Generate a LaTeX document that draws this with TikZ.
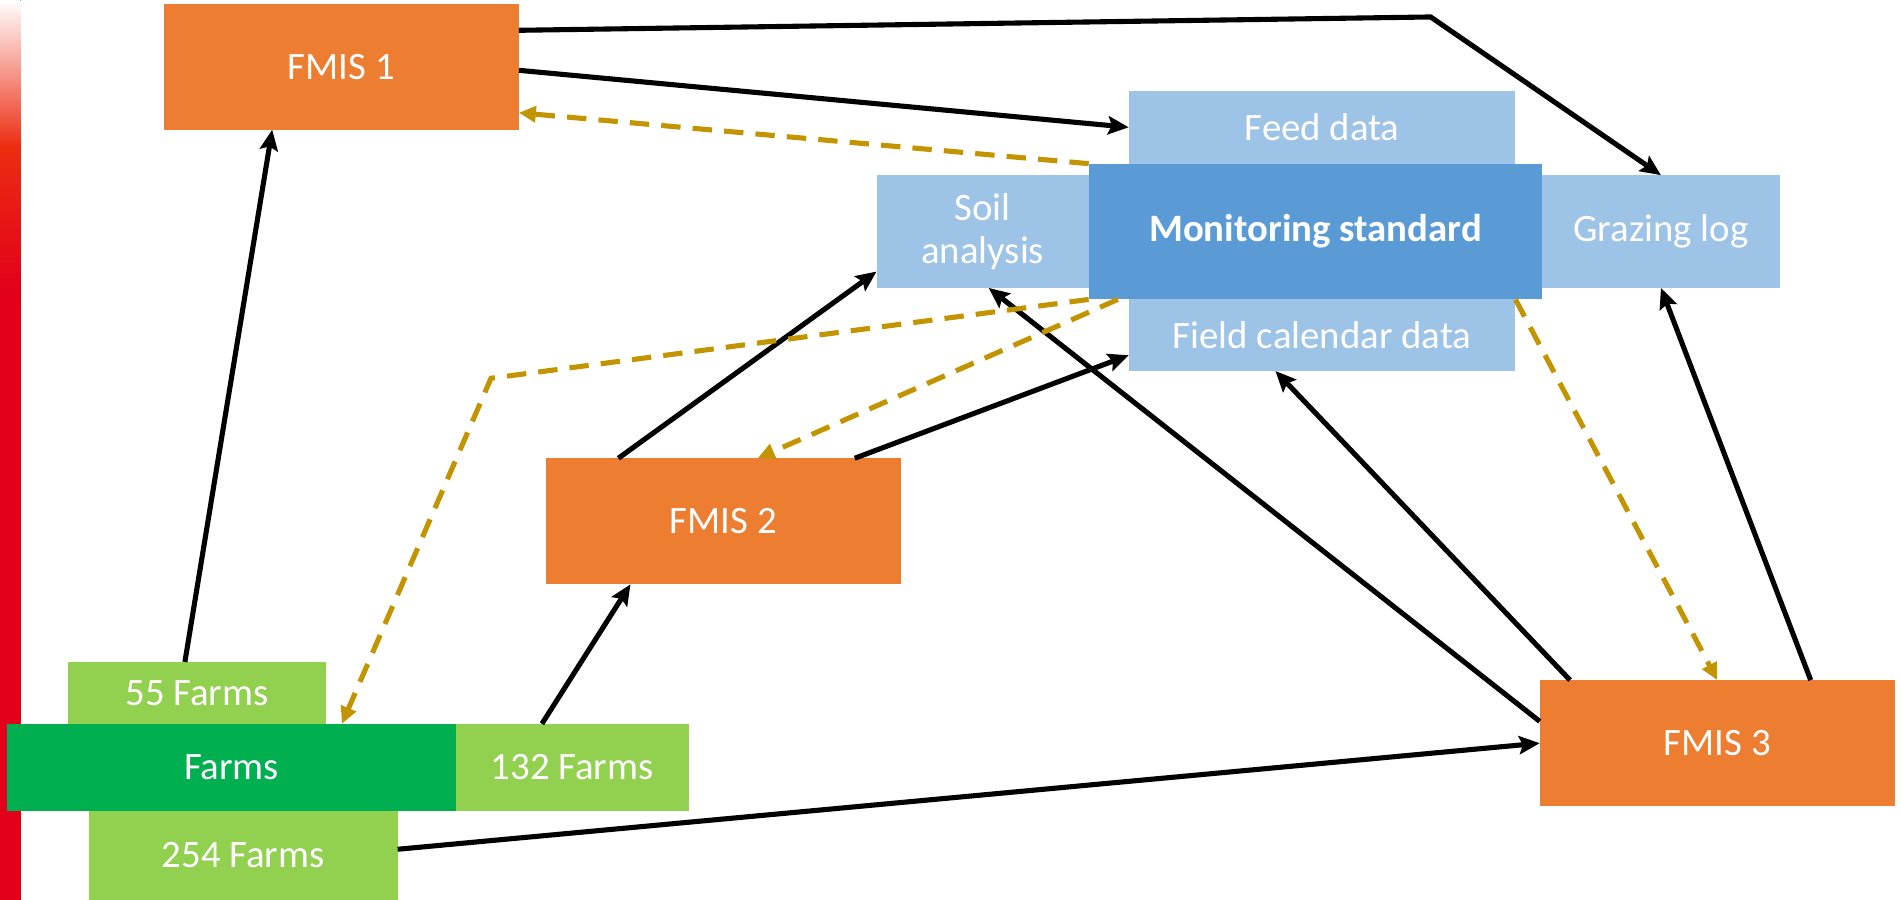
\documentclass[tikz,border=0pt]{standalone}
\usepackage{fontspec}
\setmainfont{Carlito}
\usepackage{tikz}
\usetikzlibrary{positioning,arrows.meta}
\definecolor{fmisorange}{HTML}{ED7D31}
\definecolor{lightblue}{HTML}{9DC3E6}
\definecolor{midblue}{HTML}{5B9BD5}
\definecolor{farmgreen}{HTML}{00B050}
\definecolor{lightgreen}{HTML}{92D050}
\definecolor{dashgold}{HTML}{C29400}
\definecolor{barred}{HTML}{E2001A}
\tikzstyle{plainbox} = [rectangle, inner sep=0pt, outer sep=0pt, text=white, font=\fontsize{32}{36}\selectfont]
\tikzstyle{fmisbox} = [plainbox, fill=fmisorange, minimum width=293pt, minimum height=104pt]
\tikzstyle{databox} = [plainbox, fill=lightblue, minimum height=93pt]
\tikzstyle{farmbox} = [plainbox, fill=lightgreen, minimum height=72pt]
\tikzstyle{arrow} = [line width=4.2pt,-{Stealth[length=17pt,width=15pt,inset=3pt]}]
\tikzstyle{arrow_dash} = [line width=4.2pt, dashgold, dash pattern=on 16pt off 10pt, -{Triangle[length=14pt,width=13pt]}]

\begin{document}
\begin{tikzpicture}[x=1pt,y=1pt]
    \useasboundingbox (0,0) rectangle (1568,742);
    % side bar
    \fill[top color=white, bottom color=barred, middle color=barred!65!orange] (0,500) rectangle (17,742);
    \fill[barred] (0,0) rectangle (17,500.5);

    \node (fmis1) [fmisbox] at (281.5,687) {FMIS 1};
    \node (fmis2) [fmisbox] at (596.5,312) {FMIS 2};
    \node (fmis3) [fmisbox] at (1416.5,129) {FMIS 3};

    \node (monitoring) [plainbox, fill=midblue, minimum width=374pt, minimum height=112pt, font=\fontsize{32}{36}\selectfont\bfseries] at (1085,551) {Monitoring standard};
    \node (soil) [databox, minimum width=175pt, left=0pt of monitoring, align=center] {Soil\\analysis};
    \node (grazing) [databox, minimum width=196pt, right=0pt of monitoring] {Grazing log};
    \node (feed) [databox, minimum width=319pt, minimum height=60pt, above=0pt of monitoring, xshift=5.5pt] {Feed data};
    \node (field) [databox, minimum width=319pt, minimum height=59pt, below=0pt of monitoring, xshift=5.5pt] {Field calendar data};

    \node (farms) [farmbox, fill=farmgreen, minimum width=370pt] at (191,109) {Farms};
    \node (f132) [farmbox, minimum width=192pt, right=0pt of farms] {132 Farms};
    \node (f55) [farmbox, minimum width=213pt, minimum height=51pt, anchor=south west] at ([xshift=50pt]farms.north west) {55 Farms};
    \node (f254) [farmbox, minimum width=255pt, minimum height=73pt, anchor=north west] at ([xshift=67pt]farms.south west) {254 Farms};

    % data going up
    \draw [arrow] ([xshift=-10pt]f55.north) -- ([xshift=-57pt]fmis1.south);
    \draw [arrow] ([xshift=-25pt]f132.north) -- ([xshift=-76.5pt]fmis2.south);
    \draw [arrow] ([yshift=5pt]f254.east) -- (fmis3.west);
    \draw [arrow] ([yshift=-3pt]fmis1.east) -- (feed.west);
    \coordinate (bend) at (1180,728);
    \draw [arrow] ([yshift=30pt]fmis1.east) -- (bend) -- (grazing.north);
    \draw [arrow] ([xshift=-86.5pt]fmis2.north) -- ([yshift=-33pt]soil.west);
    \draw [arrow] ([xshift=108.5pt]fmis2.north) -- ([yshift=-16.5pt]field.west);
    \draw [arrow] ([yshift=18pt]fmis3.west) -- ([xshift=5pt]soil.south);
    \draw [arrow] ([xshift=25pt]fmis3.north west) -- ([xshift=-38.5pt]field.south);
    \draw [arrow] ([xshift=77pt]fmis3.north) -- (grazing.south);

    % standard going back
    \draw [arrow_dash] (monitoring.north west) -- ([yshift=-38pt]fmis1.east);
    \coordinate (kink) at (405,430);
    \draw [arrow_dash] (monitoring.south west) -- (kink) -- ([xshift=91pt]farms.north);
    \draw [arrow_dash] ([xshift=24pt]monitoring.south west) -- ([xshift=28.5pt]fmis2.north);
    \draw [arrow_dash] ([xshift=-22pt]monitoring.south east) -- (fmis3.north);
\end{tikzpicture}
\end{document}
